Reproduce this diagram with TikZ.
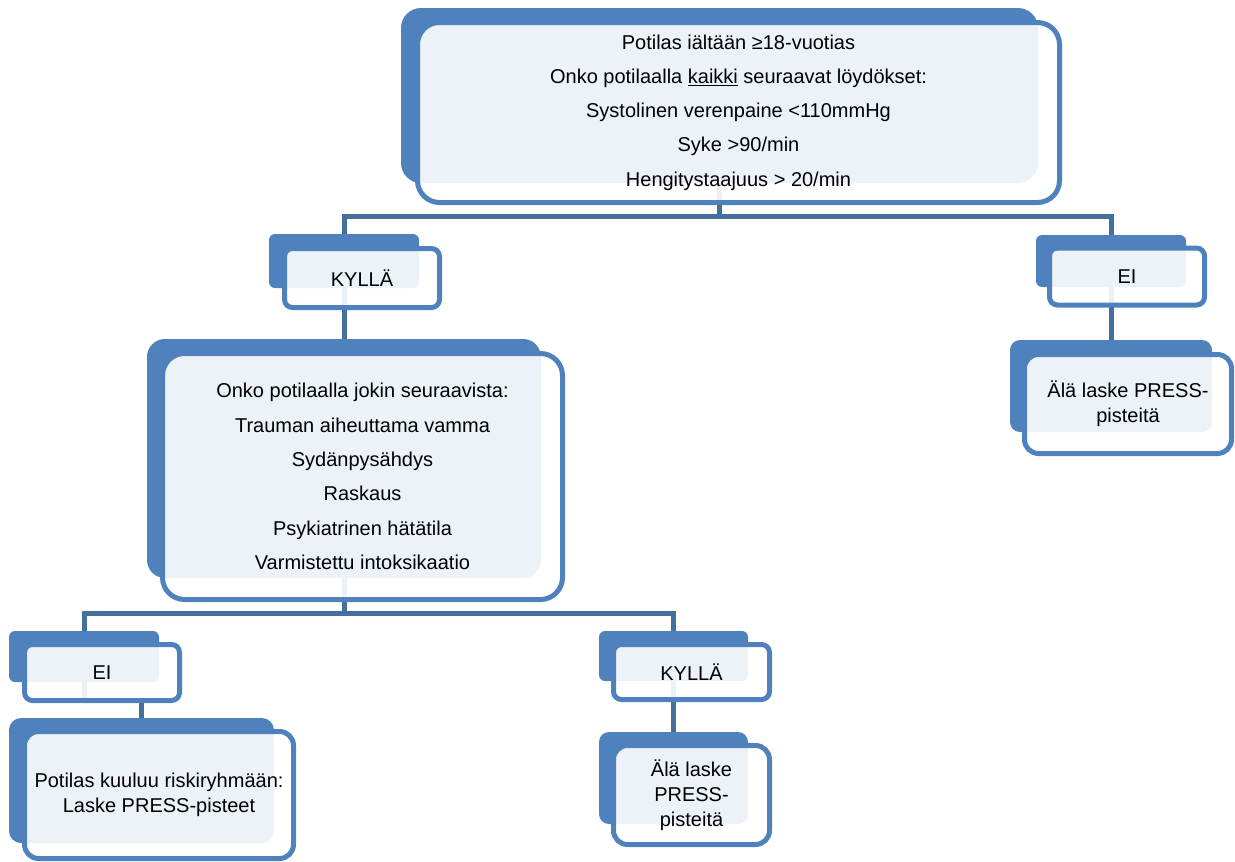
\documentclass[tikz,border=0pt]{standalone}
\usepackage{fontspec}
\setmainfont{Liberation Sans}
\definecolor{boxblue}{HTML}{4F81BD}
\definecolor{linkblue}{HTML}{41719C}
\tikzset{
  backbox/.style={rectangle, fill=boxblue, inner sep=0pt, rounded corners=#1},
  backbox/.default=6pt,
  frontbox/.style={rectangle, draw=boxblue, line width=5pt, fill=white,
                   fill opacity=0.9, text opacity=1, inner sep=0pt,
                   align=center, rounded corners=#1},
  frontbox/.default=8pt,
  link/.style={draw=linkblue, line width=5pt},
  listtext/.style={font=\fontsize{20}{34.3}\selectfont},
  plaintext/.style={font=\fontsize{20}{25}\selectfont},
}

\begin{document}
\begin{tikzpicture}[x=1pt, y=-1pt]
\useasboundingbox (0,0) rectangle (1235,862);

% ── Back panels ───────────────────────────────────────────────────────────────
\node[backbox=20pt, minimum width=637pt, minimum height=175pt] (topback) at (719.5,95.5) {};
\node[backbox, minimum width=150pt, minimum height=54pt] (yes1back) at (344,261) {};
\node[backbox, minimum width=150pt, minimum height=52pt] (no1back) at (1111,261) {};
\node[backbox=18pt, minimum width=394pt, minimum height=239pt] (midback) at (344,458.5) {};
\node[backbox=10pt, minimum width=202pt, minimum height=92pt] (stop1back) at (1111,386) {};
\node[backbox, minimum width=150pt, minimum height=51pt] (no2back) at (84,656.5) {};
\node[backbox, minimum width=149pt, minimum height=50pt] (yes2back) at (673.5,656) {};
\node[backbox=12pt, minimum width=265pt, minimum height=125pt] (riskback) at (141.5,780.5) {};
\node[backbox=10pt, minimum width=149pt, minimum height=92pt] (stop2back) at (673.5,778) {};

% ── Front box outlines needed by the connectors ──────────────────────────────
\coordinate (no2foot) at (84,700.5);

% ── Connectors ────────────────────────────────────────────────────────────────
\draw[link] (topback.south) -- ++(0,33) -| (yes1back.north);
\draw[link] (topback.south) -- ++(0,33) -| (no1back.north);
\draw[link] (yes1back.south) -- (midback.north);
\draw[link] (no1back.south) -- (stop1back.north);
\draw[link] (midback.south) -- ++(0,35) -| (no2back.north);
\draw[link] (midback.south) -- ++(0,35) -| (yes2back.north);
\draw[link] (no2back.south) -- (no2foot) -| (riskback.north);
\draw[link] (yes2back.south) -- (stop2back.north);

% ── Front boxes with text ─────────────────────────────────────────────────────
\node[frontbox=22pt, listtext, minimum width=642pt, minimum height=180pt] (topfront) at (738.5,112.5)
  {Potilas iältään ≥18-vuotias\\
   Onko potilaalla \underline{kaikki} seuraavat löydökset:\\
   Systolinen verenpaine <110mmHg\\
   Syke >90/min\\
   Hengitystaajuus > 20/min};
\node[frontbox, plaintext, minimum width=155pt, minimum height=59pt] (yes1front) at (362,278) {KYLLÄ};
\node[frontbox, plaintext, minimum width=155pt, minimum height=57pt] (no1front) at (1127,276.5) {EI};
\node[frontbox=22pt, listtext, minimum width=400pt, minimum height=246pt] (midfront) at (362.5,476.5)
  {Onko potilaalla jokin seuraavista:\\
   Trauman aiheuttama vamma\\
   Sydänpysähdys\\
   Raskaus\\
   Psykiatrinen hätätila\\
   Varmistettu intoksikaatio};
\node[frontbox=14pt, plaintext, minimum width=207pt, minimum height=99pt] (stop1front) at (1128,404)
  {Älä laske PRESS-\\pisteitä};
\node[frontbox, plaintext, minimum width=155pt, minimum height=56pt] (no2front) at (102,672.5) {EI};
\node[frontbox, plaintext, minimum width=156pt, minimum height=55pt] (yes2front) at (691.5,672) {KYLLÄ};
\node[frontbox=14pt, plaintext, minimum width=269pt, minimum height=127pt] (riskfront) at (159,795)
  {Potilas kuuluu riskiryhmään:\\Laske PRESS-pisteet};
\node[frontbox=14pt, plaintext, minimum width=156pt, minimum height=99pt] (stop2front) at (691.5,795)
  {Älä laske\\PRESS-\\pisteitä};

\end{tikzpicture}
\end{document}
